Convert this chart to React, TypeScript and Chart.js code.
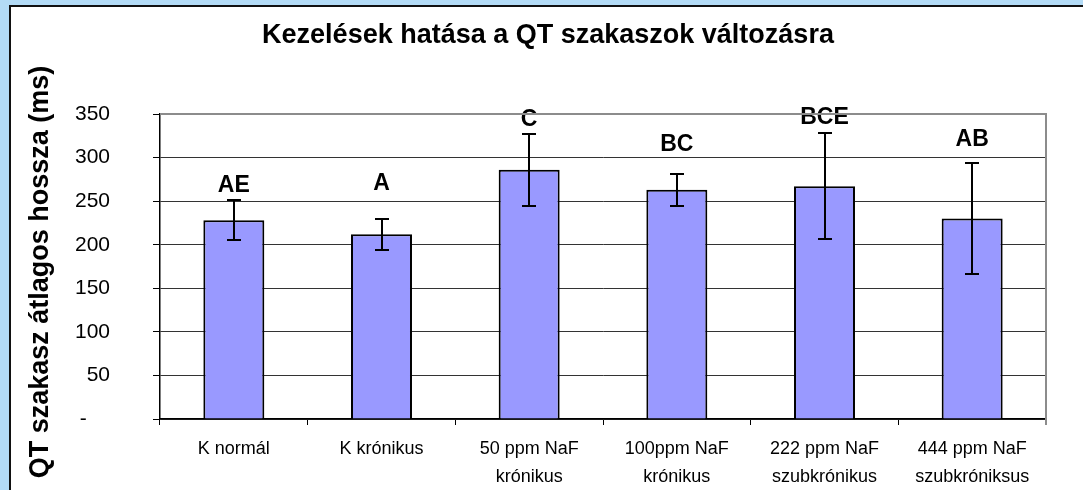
import React, { useEffect, useRef } from "react";
import { Chart, registerables } from "chart.js";

Chart.register(...registerables);

const chartTitle = "Kezelések hatása a QT szakaszok változásra";
const yAxisTitle = "QT szakasz átlagos hossza (ms)";
const categories: string[][] = [
  ["K normál"],
  ["K krónikus"],
  ["50 ppm NaF", "krónikus"],
  ["100ppm NaF", "krónikus"],
  ["222 ppm NaF", "szubkrónikus"],
  ["444 ppm NaF", "szubkróniksus"],
];
const means = [228, 212, 286, 263, 267, 230];
const errors = [23, 18, 41, 18, 61, 64];
const groupLetters = ["AE", "A", "C", "BC", "BCE", "AB"];
const letterLevels = [268, 270, 343, 315, 346, 320];
const yTicks = [0, 50, 100, 150, 200, 250, 300, 350];

const FONT = "'Liberation Sans', Arial, sans-serif";

const overlayPlugin = {
  id: "overlay",
  afterDatasetsDraw(chart: any) {
    const ctx = chart.ctx;
    const xs = chart.scales.x;
    const ys = chart.scales.y;
    const area = chart.chartArea;
    ctx.save();
    // error bars
    ctx.strokeStyle = "#000";
    ctx.lineWidth = 2;
    means.forEach((m, i) => {
      const x = Math.round(xs.getPixelForValue(i));
      const yt = Math.round(ys.getPixelForValue(m + errors[i]));
      const yb = Math.round(ys.getPixelForValue(m - errors[i]));
      ctx.beginPath();
      ctx.moveTo(x, yt);
      ctx.lineTo(x, yb);
      ctx.moveTo(x - 7, yt);
      ctx.lineTo(x + 7, yt);
      ctx.moveTo(x - 7, yb);
      ctx.lineTo(x + 7, yb);
      ctx.stroke();
    });
    // group letters
    ctx.fillStyle = "#000";
    ctx.font = `bold 23px ${FONT}`;
    ctx.textAlign = "center";
    ctx.textBaseline = "middle";
    groupLetters.forEach((t, i) => {
      ctx.fillText(t, xs.getPixelForValue(i), ys.getPixelForValue(letterLevels[i]));
    });
    // plot area top/right border
    ctx.strokeStyle = "#8c8c8c";
    ctx.lineWidth = 2;
    ctx.beginPath();
    ctx.moveTo(area.left, area.top);
    ctx.lineTo(area.right, area.top);
    ctx.lineTo(area.right, area.bottom + 6);
    ctx.stroke();
    // chart title
    ctx.font = `bold 27px ${FONT}`;
    ctx.fillText(chartTitle, 548, 36);
    // y-axis title
    ctx.translate(41, 272);
    ctx.rotate(-Math.PI / 2);
    ctx.fillText(yAxisTitle, 0, 0);
    ctx.restore();
  },
};

export default function App() {
  const ref = useRef<HTMLCanvasElement>(null);
  useEffect(() => {
    if (!ref.current) return;
    const chart = new Chart(ref.current, {
      type: "bar",
      data: {
        labels: categories,
        datasets: [
          {
            data: means,
            backgroundColor: "#9999ff",
            borderColor: "#000",
            borderWidth: 2,
            categoryPercentage: 1,
            barPercentage: 0.413,
          },
        ],
      },
      options: {
        responsive: false,
        animation: false,
        devicePixelRatio: 1,
        layout: { padding: { top: 114, right: 37, bottom: 0, left: 0 } },
        plugins: {
          legend: { display: false },
          tooltip: { enabled: false },
          title: { display: false },
        },
        scales: {
          x: {
            type: "category",
            offset: true,
            grid: {
              offset: true,
              drawOnChartArea: false,
              drawTicks: true,
              tickLength: 6,
              color: "#000",
              tickColor: "#000",
            },
            border: { display: true, color: "#000", width: 1.5 },
            ticks: {
              color: "#000",
              font: { family: FONT, size: 18, lineHeight: 1.55 },
              padding: 10,
              maxRotation: 0,
              autoSkip: false,
            },
            afterFit(scale: any) {
              scale.height = 71;
            },
          },
          y: {
            min: 0,
            max: 350,
            afterBuildTicks(scale: any) {
              scale.ticks = yTicks.map((v) => ({ value: v }));
            },
            grid: {
              color: "#333",
              lineWidth: 1,
              tickLength: 7,
              tickColor: "#000",
            },
            border: { display: true, color: "#000", width: 1.5 },
            ticks: {
              color: "#000",
              font: { family: FONT, size: 21 },
              padding: 43,
              callback: (v: any) => (Number(v) === 0 ? "-    " : String(v)),
            },
            afterFit(scale: any) {
              scale.width = 160;
            },
          },
        },
      },
      plugins: [overlayPlugin],
    } as any);
    return () => chart.destroy();
  }, []);

  return (
    <div
      style={{
        position: "fixed",
        left: 0,
        top: 0,
        width: 1083,
        height: 490,
        overflow: "hidden",
        background: "#b3dbf6",
      }}
    >
      <div
        style={{
          position: "absolute",
          left: 9,
          top: 5,
          width: 1120,
          height: 520,
          border: "2px solid #111",
          background: "#fff",
        }}
      />
      <canvas
        ref={ref}
        width={1083}
        height={490}
        style={{ position: "absolute", left: 0, top: 0 }}
      />
    </div>
  );
}
